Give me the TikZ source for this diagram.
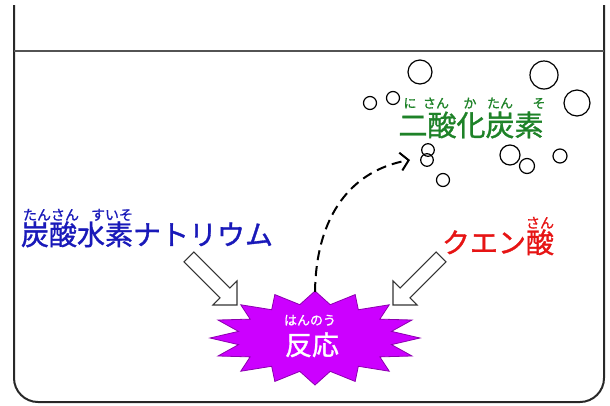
\documentclass[tikz,border=0pt]{standalone}
\usepackage{fontspec}
\newfontfamily\jp{Noto Sans CJK JP}[BoldFont={Noto Sans CJK JP}, BoldFeatures={FakeBold=1.2}]
\usetikzlibrary{arrows.meta}
\definecolor{cblue}{RGB}{25,25,185}
\definecolor{cred}{RGB}{230,20,20}
\definecolor{cgreen}{RGB}{30,130,40}
\definecolor{starfill}{RGB}{204,0,255}
\definecolor{starline}{RGB}{140,0,175}
\definecolor{wall}{RGB}{40,40,40}
\tikzset{
  jtext/.style={inner sep=0pt, anchor=base, font=\jp\bfseries\fontsize{28}{30}\selectfont},
  ruby/.style={inner sep=0pt, anchor=base, font=\jp\bfseries\fontsize{14}{15}\selectfont},
  gruby/.style={ruby, cgreen, font=\jp\bfseries\fontsize{13}{14}\selectfont},
  bubble/.style={draw=black, line width=1.2pt},
  blockarrow/.style={draw=black!80, fill=white, line width=1.1pt, line join=miter},
}
\begin{document}
\begin{tikzpicture}[x=1pt,y=-1pt]
\useasboundingbox (0,0) rectangle (610,405);
% beaker
\draw[wall, line width=2pt, rounded corners=24pt] (14,5) -- (14,402) -- (604,402) -- (604,5);
\draw[wall!80, line width=1.6pt] (14,51) -- (604,51);
% bubbles
\foreach \x/\y/\r in {420/72/12, 544/75/14, 577/103/13, 370/103/6.5, 393/98/6.5,
  428/150/6.3, 427/160/6.3, 443/180/6.5, 510/155/10, 527/166/7.5, 560/156/7}
  \draw[bubble] (\x,\y) circle[radius=\r];
% starburst
\coordinate (sc) at (315,338);
\draw[starline, fill=starfill, line width=0.8pt]
  plot[samples at={0,...,31}, variable=\k]
  ({315+ifthenelse(mod(\k,2)==0,105,78)*cos(90+11.25*\k)},
   {338-ifthenelse(mod(\k,2)==0,47,34)*sin(90+11.25*\k)}) -- cycle;
\coordinate (stop) at (315,292);
\node[ruby, white, font=\jp\bfseries\fontsize{13}{14}\selectfont] (rh) at (310,325) {はんのう};
\node[jtext, white, font=\jp\bfseries\fontsize{27}{28}\selectfont] (hannou) at (312,355) {反応};
% block arrows
\begin{scope}[shift={(237,305)}, rotate=-45]
  \draw[blockarrow] (0,0) -- (-17,17) -- (-17,7) -- (-68,7) -- (-68,-7) -- (-17,-7) -- (-17,-17) -- cycle;
\end{scope}
\begin{scope}[shift={(393,305)}, rotate=-135]
  \draw[blockarrow] (0,0) -- (-17,17) -- (-17,7) -- (-68,7) -- (-68,-7) -- (-17,-7) -- (-17,-17) -- cycle;
\end{scope}
% dashed arrow
\coordinate (aend) at (410,160);
\draw[line width=2pt, dash pattern=on 10pt off 6pt, -{Straight Barb[length=8pt,width=18pt,line width=2pt]}]
  (stop) .. controls (316,215) and (352,170) .. (aend);
% texts
\node[ruby, cblue] (r1) at (51,220) {たんさん};
\node[ruby, cblue] (r2) at (112,220) {すいそ};
\node[jtext, cblue] (nahco) at (147,245) {炭酸水素ナトリウム};
\node[ruby, cred] (r3) at (540,228) {さん};
\node[jtext, cred] (citric) at (498,253) {クエン酸};
\node[gruby] (g1) at (410,108) {に};
\node[gruby] (g2) at (436,108) {さん};
\node[gruby] (g3) at (470,108) {か};
\node[gruby] (g4) at (500,108) {たん};
\node[gruby] (g5) at (539,108) {そ};
\node[jtext, cgreen, font=\jp\bfseries\fontsize{29}{30}\selectfont] (co2) at (471,136) {二酸化炭素};
\end{tikzpicture}
\end{document}
